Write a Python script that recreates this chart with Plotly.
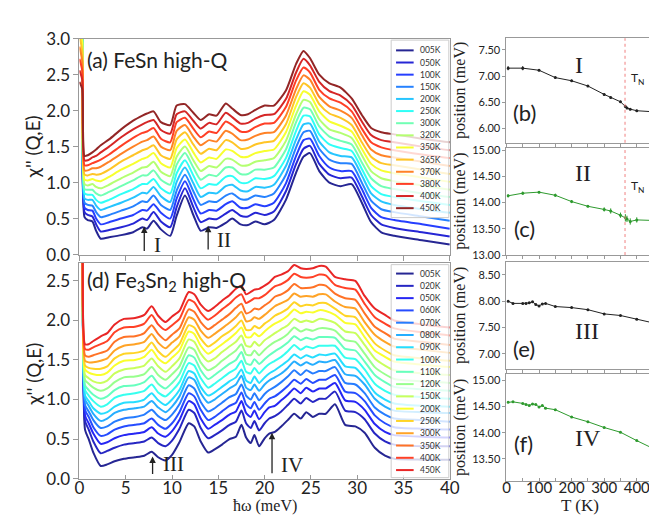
import plotly.graph_objects as go

W, H = 657, 519

# ---------------- data: panel (a) FeSn, chi''(Q,E) per temperature ----------------
fesn_temps = ["005K", "050K", "100K", "150K", "200K", "250K", "300K",
              "320K", "350K", "365K", "370K", "380K", "400K", "450K"]
fesn_energy = [0.0, 0.3, 0.55, 0.9, 1.4, 1.8, 2.3, 3.2, 4.5, 5.8, 6.8, 7.3, 8.0, 8.8,
               9.8, 10.5, 11.4, 12.3, 13.1, 14.0, 14.8, 15.8, 16.5, 17.4, 18.2, 19.0,
               20.0, 21.0, 22.3, 23.4, 24.2, 24.9, 25.9, 27.0, 28.2, 29.4, 30.5, 31.5,
               32.6, 34.0, 37.0, 40.0]
fesn_005K = [4.50, 4.00, 0.52, 0.48, 0.46, 0.33, 0.22, 0.24, 0.27, 0.31, 0.38, 0.36, 0.47, 0.35, 0.26, 0.54, 0.82, 0.55, 0.33, 0.38, 0.37, 0.44, 0.50, 0.42, 0.41, 0.46, 0.42, 0.48, 0.76, 1.14, 1.36, 1.41, 1.16, 1.00, 0.95, 0.98, 0.72, 0.45, 0.31, 0.26, 0.20, 0.14]
fesn_050K = [4.34, 3.87, 0.59, 0.55, 0.53, 0.42, 0.32, 0.34, 0.38, 0.43, 0.50, 0.48, 0.59, 0.46, 0.38, 0.66, 0.92, 0.66, 0.45, 0.50, 0.49, 0.57, 0.62, 0.54, 0.53, 0.58, 0.55, 0.60, 0.88, 1.26, 1.47, 1.51, 1.26, 1.11, 1.06, 1.07, 0.81, 0.55, 0.42, 0.37, 0.31, 0.25]
fesn_100K = [4.18, 3.74, 0.65, 0.62, 0.61, 0.50, 0.42, 0.45, 0.50, 0.55, 0.62, 0.61, 0.70, 0.58, 0.50, 0.78, 1.02, 0.77, 0.57, 0.62, 0.61, 0.70, 0.74, 0.65, 0.65, 0.70, 0.67, 0.72, 0.99, 1.37, 1.59, 1.61, 1.37, 1.21, 1.16, 1.16, 0.91, 0.65, 0.52, 0.48, 0.42, 0.36]
fesn_150K = [4.01, 3.61, 0.72, 0.69, 0.68, 0.59, 0.52, 0.55, 0.61, 0.67, 0.74, 0.73, 0.82, 0.69, 0.62, 0.89, 1.11, 0.88, 0.69, 0.74, 0.73, 0.82, 0.85, 0.77, 0.77, 0.82, 0.80, 0.85, 1.11, 1.49, 1.70, 1.72, 1.47, 1.32, 1.27, 1.26, 1.00, 0.75, 0.63, 0.59, 0.53, 0.47]
fesn_200K = [3.85, 3.48, 0.78, 0.76, 0.76, 0.68, 0.62, 0.66, 0.72, 0.79, 0.86, 0.85, 0.94, 0.81, 0.73, 1.01, 1.21, 0.99, 0.80, 0.86, 0.85, 0.95, 0.97, 0.89, 0.88, 0.94, 0.93, 0.97, 1.23, 1.60, 1.81, 1.82, 1.57, 1.42, 1.37, 1.35, 1.10, 0.85, 0.74, 0.69, 0.63, 0.58]
fesn_250K = [3.69, 3.35, 0.85, 0.83, 0.83, 0.76, 0.72, 0.76, 0.84, 0.91, 0.98, 0.98, 1.05, 0.92, 0.85, 1.13, 1.31, 1.10, 0.92, 0.98, 0.97, 1.08, 1.09, 1.00, 1.00, 1.06, 1.05, 1.09, 1.34, 1.72, 1.93, 1.92, 1.67, 1.53, 1.48, 1.44, 1.19, 0.95, 0.84, 0.80, 0.74, 0.69]
fesn_300K = [3.53, 3.22, 0.91, 0.90, 0.90, 0.85, 0.82, 0.87, 0.95, 1.03, 1.10, 1.10, 1.17, 1.04, 0.97, 1.25, 1.41, 1.21, 1.04, 1.11, 1.09, 1.21, 1.21, 1.12, 1.12, 1.18, 1.18, 1.21, 1.46, 1.84, 2.04, 2.02, 1.78, 1.64, 1.58, 1.53, 1.28, 1.06, 0.95, 0.91, 0.85, 0.80]
fesn_320K = [3.37, 3.08, 0.98, 0.96, 0.98, 0.94, 0.92, 0.97, 1.06, 1.14, 1.21, 1.22, 1.29, 1.15, 1.09, 1.36, 1.50, 1.31, 1.16, 1.23, 1.21, 1.33, 1.32, 1.24, 1.24, 1.29, 1.31, 1.34, 1.58, 1.95, 2.15, 2.12, 1.88, 1.74, 1.69, 1.62, 1.38, 1.16, 1.06, 1.02, 0.96, 0.90]
fesn_350K = [3.21, 2.95, 1.04, 1.03, 1.05, 1.03, 1.02, 1.08, 1.18, 1.26, 1.33, 1.35, 1.41, 1.27, 1.21, 1.48, 1.60, 1.42, 1.28, 1.35, 1.33, 1.46, 1.44, 1.36, 1.36, 1.41, 1.44, 1.46, 1.70, 2.07, 2.27, 2.22, 1.99, 1.85, 1.79, 1.71, 1.47, 1.26, 1.17, 1.13, 1.07, 1.01]
fesn_365K = [3.05, 2.82, 1.11, 1.10, 1.12, 1.11, 1.12, 1.18, 1.29, 1.38, 1.45, 1.47, 1.52, 1.38, 1.33, 1.60, 1.70, 1.53, 1.40, 1.47, 1.45, 1.59, 1.56, 1.47, 1.48, 1.53, 1.56, 1.58, 1.81, 2.19, 2.38, 2.32, 2.09, 1.96, 1.90, 1.80, 1.56, 1.36, 1.27, 1.24, 1.18, 1.12]
fesn_370K = [2.89, 2.69, 1.17, 1.17, 1.20, 1.20, 1.22, 1.29, 1.40, 1.50, 1.57, 1.59, 1.64, 1.50, 1.45, 1.72, 1.80, 1.64, 1.52, 1.59, 1.57, 1.72, 1.68, 1.59, 1.60, 1.65, 1.69, 1.70, 1.93, 2.30, 2.49, 2.43, 2.19, 2.06, 2.00, 1.90, 1.66, 1.46, 1.38, 1.35, 1.29, 1.23]
fesn_380K = [2.72, 2.56, 1.24, 1.24, 1.27, 1.29, 1.32, 1.39, 1.51, 1.62, 1.69, 1.71, 1.76, 1.61, 1.56, 1.84, 1.90, 1.75, 1.63, 1.71, 1.69, 1.85, 1.80, 1.71, 1.71, 1.77, 1.82, 1.83, 2.05, 2.42, 2.60, 2.53, 2.29, 2.17, 2.11, 1.99, 1.75, 1.56, 1.49, 1.45, 1.39, 1.34]
fesn_400K = [2.56, 2.43, 1.31, 1.31, 1.35, 1.37, 1.42, 1.50, 1.63, 1.74, 1.81, 1.84, 1.87, 1.73, 1.68, 1.95, 1.99, 1.86, 1.75, 1.83, 1.81, 1.97, 1.91, 1.82, 1.83, 1.89, 1.94, 1.95, 2.16, 2.53, 2.72, 2.63, 2.40, 2.27, 2.21, 2.08, 1.85, 1.66, 1.59, 1.56, 1.50, 1.45]
fesn_450K = [2.40, 2.30, 1.37, 1.38, 1.42, 1.46, 1.52, 1.60, 1.74, 1.86, 1.93, 1.96, 1.99, 1.84, 1.80, 2.07, 2.09, 1.97, 1.87, 1.95, 1.93, 2.10, 2.03, 1.94, 1.95, 2.01, 2.07, 2.07, 2.28, 2.65, 2.83, 2.73, 2.50, 2.38, 2.32, 2.17, 1.94, 1.76, 1.70, 1.67, 1.61, 1.56]
fesn_curves = [fesn_005K, fesn_050K, fesn_100K, fesn_150K, fesn_200K, fesn_250K, fesn_300K,
               fesn_320K, fesn_350K, fesn_365K, fesn_370K, fesn_380K, fesn_400K, fesn_450K]

# ---------------- data: panel (d) Fe3Sn2, chi''(Q,E) per temperature ----------------
fe3sn2_temps = ["005K", "020K", "050K", "060K", "070K", "080K", "090K", "100K", "110K",
                "120K", "150K", "200K", "250K", "300K", "350K", "400K", "450K"]
fe3sn2_energy = [0.0, 0.3, 0.6, 1.0, 1.5, 2.3, 3.0, 3.8, 4.8, 6.0, 7.0, 7.8, 8.5, 9.3,
                 10.0, 10.8, 11.8, 12.4, 13.1, 13.9, 14.6, 15.4, 16.2, 16.9, 17.5, 18.0,
                 18.5, 18.9, 19.4, 20.0, 20.5, 21.1, 21.8, 22.5, 23.2, 23.9, 24.5, 25.2,
                 25.9, 26.6, 27.6, 28.7, 29.8, 30.8, 31.9, 33.0, 34.0, 37.0, 40.0]
fe3sn2_005K = [4.00, 3.50, 0.62, 0.50, 0.33, 0.16, 0.18, 0.22, 0.25, 0.27, 0.29, 0.34, 0.27, 0.23, 0.30, 0.46, 0.70, 0.66, 0.47, 0.33, 0.37, 0.43, 0.50, 0.53, 0.68, 0.52, 0.45, 0.55, 0.41, 0.51, 0.57, 0.59, 0.66, 0.74, 0.82, 0.76, 0.84, 0.78, 0.82, 0.82, 0.94, 0.68, 0.66, 0.58, 0.39, 0.29, 0.25, 0.24, 0.24]
fe3sn2_020K = [3.92, 3.45, 0.73, 0.62, 0.47, 0.32, 0.35, 0.39, 0.43, 0.45, 0.47, 0.52, 0.45, 0.41, 0.48, 0.63, 0.87, 0.83, 0.64, 0.51, 0.55, 0.61, 0.68, 0.72, 0.86, 0.70, 0.64, 0.73, 0.61, 0.70, 0.76, 0.79, 0.85, 0.93, 1.01, 0.95, 1.02, 0.97, 1.01, 1.01, 1.10, 0.86, 0.84, 0.75, 0.57, 0.47, 0.43, 0.41, 0.41]
fe3sn2_050K = [3.86, 3.42, 0.80, 0.70, 0.57, 0.44, 0.46, 0.51, 0.55, 0.57, 0.59, 0.65, 0.57, 0.53, 0.60, 0.74, 0.98, 0.94, 0.76, 0.63, 0.68, 0.74, 0.81, 0.85, 0.98, 0.83, 0.78, 0.86, 0.75, 0.84, 0.90, 0.92, 0.99, 1.06, 1.14, 1.08, 1.15, 1.10, 1.14, 1.14, 1.21, 0.99, 0.97, 0.87, 0.69, 0.59, 0.55, 0.53, 0.52]
fe3sn2_060K = [3.82, 3.39, 0.87, 0.78, 0.65, 0.54, 0.56, 0.62, 0.66, 0.68, 0.70, 0.76, 0.68, 0.63, 0.70, 0.84, 1.08, 1.04, 0.87, 0.74, 0.78, 0.85, 0.92, 0.96, 1.09, 0.94, 0.89, 0.97, 0.87, 0.95, 1.01, 1.04, 1.10, 1.17, 1.25, 1.20, 1.26, 1.21, 1.25, 1.25, 1.31, 1.10, 1.08, 0.98, 0.80, 0.70, 0.65, 0.63, 0.62]
fe3sn2_070K = [3.77, 3.36, 0.93, 0.85, 0.74, 0.64, 0.66, 0.72, 0.76, 0.78, 0.81, 0.87, 0.79, 0.74, 0.81, 0.94, 1.18, 1.14, 0.97, 0.85, 0.89, 0.96, 1.03, 1.07, 1.19, 1.05, 1.00, 1.08, 0.99, 1.07, 1.12, 1.16, 1.22, 1.29, 1.37, 1.31, 1.37, 1.33, 1.36, 1.36, 1.41, 1.21, 1.19, 1.08, 0.90, 0.81, 0.76, 0.74, 0.72]
fe3sn2_080K = [3.72, 3.33, 1.00, 0.92, 0.82, 0.73, 0.76, 0.83, 0.87, 0.89, 0.91, 0.98, 0.90, 0.84, 0.91, 1.04, 1.28, 1.25, 1.08, 0.96, 1.00, 1.07, 1.14, 1.19, 1.30, 1.15, 1.12, 1.19, 1.11, 1.19, 1.24, 1.28, 1.33, 1.40, 1.48, 1.43, 1.47, 1.44, 1.48, 1.47, 1.50, 1.32, 1.30, 1.19, 1.01, 0.91, 0.86, 0.84, 0.83]
fe3sn2_090K = [3.68, 3.30, 1.05, 0.98, 0.89, 0.82, 0.84, 0.91, 0.96, 0.97, 1.00, 1.08, 0.99, 0.93, 1.00, 1.12, 1.36, 1.33, 1.16, 1.05, 1.09, 1.16, 1.23, 1.28, 1.38, 1.24, 1.21, 1.29, 1.21, 1.28, 1.33, 1.37, 1.43, 1.49, 1.57, 1.52, 1.56, 1.53, 1.57, 1.56, 1.58, 1.42, 1.40, 1.27, 1.09, 1.00, 0.95, 0.92, 0.91]
fe3sn2_100K = [3.63, 3.27, 1.12, 1.05, 0.98, 0.91, 0.94, 1.02, 1.06, 1.08, 1.11, 1.19, 1.09, 1.04, 1.11, 1.22, 1.46, 1.43, 1.27, 1.15, 1.20, 1.27, 1.34, 1.39, 1.49, 1.35, 1.33, 1.40, 1.33, 1.40, 1.45, 1.49, 1.54, 1.61, 1.69, 1.63, 1.67, 1.65, 1.68, 1.68, 1.68, 1.53, 1.51, 1.38, 1.20, 1.11, 1.06, 1.03, 1.01]
fe3sn2_110K = [3.58, 3.24, 1.18, 1.12, 1.06, 1.01, 1.04, 1.12, 1.17, 1.18, 1.22, 1.30, 1.20, 1.14, 1.21, 1.32, 1.56, 1.53, 1.37, 1.26, 1.31, 1.38, 1.45, 1.50, 1.60, 1.46, 1.44, 1.51, 1.45, 1.51, 1.56, 1.61, 1.66, 1.72, 1.80, 1.75, 1.78, 1.76, 1.79, 1.79, 1.78, 1.64, 1.62, 1.48, 1.31, 1.22, 1.16, 1.13, 1.11]
fe3sn2_120K = [3.54, 3.21, 1.25, 1.20, 1.15, 1.11, 1.14, 1.22, 1.28, 1.29, 1.32, 1.41, 1.31, 1.25, 1.32, 1.42, 1.66, 1.63, 1.47, 1.37, 1.41, 1.49, 1.56, 1.62, 1.70, 1.57, 1.56, 1.62, 1.56, 1.63, 1.68, 1.73, 1.77, 1.83, 1.91, 1.86, 1.89, 1.87, 1.90, 1.90, 1.87, 1.75, 1.73, 1.58, 1.41, 1.32, 1.26, 1.23, 1.21]
fe3sn2_150K = [3.49, 3.18, 1.31, 1.27, 1.23, 1.21, 1.24, 1.33, 1.38, 1.40, 1.43, 1.52, 1.42, 1.35, 1.42, 1.52, 1.76, 1.73, 1.58, 1.48, 1.52, 1.60, 1.67, 1.73, 1.81, 1.68, 1.67, 1.73, 1.68, 1.75, 1.79, 1.84, 1.89, 1.94, 2.02, 1.98, 2.00, 1.98, 2.02, 2.01, 1.97, 1.86, 1.84, 1.69, 1.52, 1.43, 1.37, 1.33, 1.31]
fe3sn2_200K = [3.44, 3.15, 1.38, 1.34, 1.32, 1.31, 1.34, 1.43, 1.49, 1.50, 1.54, 1.63, 1.52, 1.46, 1.53, 1.62, 1.86, 1.83, 1.68, 1.58, 1.63, 1.70, 1.77, 1.84, 1.91, 1.79, 1.79, 1.84, 1.80, 1.86, 1.91, 1.96, 2.00, 2.06, 2.14, 2.09, 2.11, 2.10, 2.13, 2.12, 2.07, 1.97, 1.95, 1.79, 1.62, 1.54, 1.48, 1.44, 1.41]
fe3sn2_250K = [3.40, 3.12, 1.43, 1.40, 1.39, 1.39, 1.42, 1.52, 1.58, 1.59, 1.62, 1.72, 1.61, 1.54, 1.61, 1.70, 1.94, 1.91, 1.77, 1.67, 1.72, 1.80, 1.86, 1.93, 2.00, 1.88, 1.88, 1.93, 1.90, 1.96, 2.00, 2.06, 2.10, 2.15, 2.23, 2.18, 2.20, 2.19, 2.22, 2.22, 2.15, 2.06, 2.04, 1.88, 1.71, 1.62, 1.56, 1.52, 1.49]
fe3sn2_300K = [3.35, 3.10, 1.49, 1.47, 1.47, 1.49, 1.52, 1.62, 1.68, 1.70, 1.73, 1.83, 1.72, 1.65, 1.72, 1.80, 2.04, 2.01, 1.87, 1.78, 1.83, 1.90, 1.97, 2.04, 2.11, 1.99, 2.00, 2.04, 2.02, 2.07, 2.12, 2.18, 2.22, 2.26, 2.34, 2.30, 2.31, 2.30, 2.33, 2.33, 2.24, 2.17, 2.15, 1.98, 1.82, 1.73, 1.67, 1.63, 1.59]
fe3sn2_350K = [3.30, 3.06, 1.56, 1.54, 1.56, 1.59, 1.62, 1.73, 1.79, 1.80, 1.84, 1.94, 1.83, 1.75, 1.82, 1.90, 2.14, 2.11, 1.98, 1.89, 1.94, 2.01, 2.08, 2.16, 2.21, 2.09, 2.11, 2.15, 2.14, 2.19, 2.23, 2.30, 2.33, 2.38, 2.46, 2.41, 2.41, 2.42, 2.45, 2.44, 2.34, 2.28, 2.26, 2.09, 1.92, 1.84, 1.77, 1.73, 1.69]
fe3sn2_400K = [3.25, 3.03, 1.64, 1.63, 1.66, 1.70, 1.74, 1.85, 1.91, 1.92, 1.96, 2.07, 1.95, 1.88, 1.94, 2.02, 2.26, 2.23, 2.10, 2.01, 2.06, 2.14, 2.21, 2.29, 2.33, 2.22, 2.25, 2.28, 2.28, 2.32, 2.37, 2.43, 2.46, 2.51, 2.59, 2.55, 2.54, 2.55, 2.58, 2.57, 2.45, 2.41, 2.39, 2.21, 2.04, 1.96, 1.90, 1.85, 1.81]
fe3sn2_450K = [3.20, 3.00, 1.70, 1.70, 1.74, 1.80, 1.84, 1.95, 2.02, 2.03, 2.07, 2.18, 2.06, 1.98, 2.05, 2.12, 2.36, 2.33, 2.20, 2.12, 2.17, 2.25, 2.32, 2.40, 2.44, 2.33, 2.36, 2.39, 2.40, 2.44, 2.48, 2.55, 2.58, 2.62, 2.70, 2.66, 2.65, 2.66, 2.69, 2.68, 2.55, 2.52, 2.50, 2.31, 2.15, 2.07, 2.00, 1.95, 1.91]
fe3sn2_curves = [fe3sn2_005K, fe3sn2_020K, fe3sn2_050K, fe3sn2_060K, fe3sn2_070K, fe3sn2_080K,
                 fe3sn2_090K, fe3sn2_100K, fe3sn2_110K, fe3sn2_120K, fe3sn2_150K, fe3sn2_200K,
                 fe3sn2_250K, fe3sn2_300K, fe3sn2_350K, fe3sn2_400K, fe3sn2_450K]

# ---------------- data: right panels (peak positions vs T) ----------------
temp_bc = [5, 50, 100, 150, 200, 250, 300, 320, 350, 365, 370, 380, 400, 450]
peak1_pos = [7.15, 7.15, 7.11, 6.97, 6.91, 6.81, 6.65, 6.59, 6.51, 6.42, 6.39, 6.37, 6.34, 6.32]
peak1_err = [0.04, 0.04, 0.02, 0.02, 0.02, 0.02, 0.02, 0.02, 0.02, 0.02, 0.02, 0.02, 0.02, 0.02]
peak2_pos = [14.13, 14.18, 14.20, 14.14, 14.02, 13.93, 13.87, 13.84, 13.76, 13.71, 13.69,
             13.64, 13.67, 13.66]
peak2_err = [0.03, 0.03, 0.02, 0.03, 0.03, 0.02, 0.04, 0.05, 0.05, 0.07, 0.06, 0.06, 0.05, 0.03]
temp_ef = [5, 20, 50, 60, 70, 80, 90, 100, 110, 120, 150, 200, 250, 300, 350, 400, 450]
peak3_pos = [8.00, 7.96, 7.96, 7.96, 7.97, 7.99, 7.94, 7.91, 7.95, 7.96, 7.90, 7.88, 7.84,
             7.76, 7.73, 7.66, 7.59]
peak3_err = [0.01] * 17
peak4_pos = [14.58, 14.59, 14.56, 14.54, 14.52, 14.55, 14.54, 14.49, 14.52, 14.47, 14.44,
             14.30, 14.21, 14.10, 14.01, 13.85, 13.70]
peak4_err = [0.01] * 17
T_N = 364


def px(x):
    return x / W


def py(y):
    return 1 - y / H


def jet(t, alpha=0.85):
    r = min(1, max(0, 1.5 - abs(4 * t - 3)))
    g = min(1, max(0, 1.5 - abs(4 * t - 2)))
    b = min(1, max(0, 1.5 - abs(4 * t - 1)))
    c = [int(round(255 - alpha * (255 - 255 * v))) for v in (r, g, b)]
    return "rgb(%d,%d,%d)" % tuple(c)


SANS = "Lato"
SERIF = "Liberation Serif"
black = "#222222"
green = "#2e9a2e"

fig = go.Figure()

colors_a = [jet(i / (len(fesn_temps) - 1)) for i in range(len(fesn_temps))]
colors_d = [jet(0.9 * i / (len(fe3sn2_temps) - 1)) for i in range(len(fe3sn2_temps))]

for i, T in enumerate(fesn_temps):
    fig.add_trace(go.Scatter(x=fesn_energy, y=fesn_curves[i], mode="lines", name=T,
                             line=dict(color=colors_a[i], width=2, shape="spline", smoothing=0.6),
                             xaxis="x", yaxis="y", showlegend=False, hoverinfo="skip"))
for i, T in enumerate(fe3sn2_temps):
    fig.add_trace(go.Scatter(x=fe3sn2_energy, y=fe3sn2_curves[i], mode="lines", name=T,
                             line=dict(color=colors_d[i], width=2, shape="spline", smoothing=0.6),
                             xaxis="x4", yaxis="y4", showlegend=False, hoverinfo="skip"))

for xs, ys, es, col, ax in [(temp_bc, peak1_pos, peak1_err, black, "2"),
                            (temp_bc, peak2_pos, peak2_err, green, "3"),
                            (temp_ef, peak3_pos, peak3_err, black, "5"),
                            (temp_ef, peak4_pos, peak4_err, green, "6")]:
    fig.add_trace(go.Scatter(x=xs, y=ys, mode="lines+markers",
                             line=dict(color=col, width=1),
                             marker=dict(color=col, size=3),
                             error_y=dict(type="data", array=es, thickness=1, width=0, color=col),
                             xaxis="x" + ax, yaxis="y" + ax, showlegend=False, hoverinfo="skip"))

frame = dict(showline=True, linecolor="#999999", linewidth=1, mirror=True, showgrid=False,
             zeroline=False, tickcolor="#999999")

LX = [px(68), px(447)]
RX = [px(505), px(655)]
layout = dict(
    width=W, height=H, margin=dict(l=0, r=0, t=0, b=0),
    paper_bgcolor="white", plot_bgcolor="white",
    xaxis=dict(domain=LX, range=[0, 40], dtick=5, ticks="outside", ticklen=5,
               showticklabels=False, anchor="y", **frame),
    yaxis=dict(domain=[py(245.5), py(20.5)], range=[0, 3], dtick=0.5, tickformat=".1f",
               ticks="outside", ticklen=5, tickfont=dict(family=SANS, size=17, color=black),
               anchor="x", **frame),
    xaxis4=dict(domain=LX, range=[0, 40], dtick=5, ticks="inside", ticklen=4,
                ticklabelstandoff=-6,
                tickfont=dict(family=SANS, size=17, color=black), anchor="y4", **frame),
    yaxis4=dict(domain=[py(479), py(254)], range=[0, 2.73], dtick=0.5, tickformat=".1f",
                ticks="outside", ticklen=5, tickfont=dict(family=SANS, size=17, color=black),
                anchor="x4", **frame),
)
right = {"2": ([py(129), py(20)], [5.73, 7.72], [6.0, 6.5, 7.0, 7.5]),
         "3": ([py(246), py(134)], [13.0, 15.05], [13.0, 13.5, 14.0, 14.5, 15.0]),
         "5": ([py(365), py(253)], [6.71, 8.75], [7.0, 7.5, 8.0, 8.5]),
         "6": ([py(482), py(369.5)], [13.07, 15.13], [13.5, 14.0, 14.5, 15.0])}
tvals = list(range(0, 451, 50))
for k, (dom, rng, yt) in right.items():
    last = k == "6"
    xa = dict(domain=RX, range=[0, 450], tickvals=tvals,
              ticktext=[str(v) if v % 100 == 0 and v < 450 else "" for v in tvals],
              showticklabels=last, ticks="inside" if last else "outside",
              ticklen=3, tickfont=dict(family=SANS, size=15, color=black),
              anchor="y" + k, **frame)
    if last:
        xa["ticklabelstandoff"] = -7
    layout["xaxis" + k] = xa
    layout["yaxis" + k] = dict(domain=dom, range=rng, tickvals=yt, tickformat=".2f",
                               ticks="outside", ticklen=3,
                               tickfont=dict(family=SANS, size=11, color=black),
                               anchor="x" + k, **frame)
fig.update_layout(**layout)

ann = []
shapes = []


def text(x, y, s, size, family=SANS, angle=0, xanchor="center", color=black):
    ann.append(dict(x=px(x), y=py(y), xref="paper", yref="paper", text=s, showarrow=False,
                    font=dict(family=family, size=size, color=color), textangle=angle,
                    xanchor=xanchor, yanchor="middle"))


text(74, 42, "(a) FeSn high-Q", 21, xanchor="left")
text(74, 273, "(d) Fe<sub>3</sub>Sn<sub>2</sub> high-Q", 21, xanchor="left")
text(20, 133, "χ'' (Q,E)", 19, angle=-90)
text(20, 370, "χ'' (Q,E)", 19, angle=-90)
text(258, 508, "ħω (meV)", 16, family=SERIF)
text(580, 507, "T (K)", 17, family=SERIF)
for yc in [74.5, 190, 309, 425.7]:
    text(458, yc, "position (meV)", 16, family=SERIF, angle=-90)
text(523, 97, "(b)", 22)
text(523, 218, "(c)", 22)
text(523, 343, "(e)", 22)
text(522, 442, "(f)", 22)
text(579, 48, "I", 24, family=SERIF)
text(583, 160, "II", 24, family=SERIF)
text(587, 325, "III", 24, family=SERIF)
text(588, 437, "IV", 24, family=SERIF)
text(640, 62, "T<sub>N</sub>", 12)
text(640, 175, "T<sub>N</sub>", 12)

# arrows marking the modes followed on the right
arrows = [("x", "y", 7.0, 0.03, 0.39, "I", 8.4, 0.13),
          ("x", "y", 13.9, 0.05, 0.40, "II", 15.6, 0.20),
          ("x4", "y4", 7.9, 0.04, 0.28, "III", 10.2, 0.18),
          ("x4", "y4", 20.8, 0.05, 0.58, "IV", 23.0, 0.17)]
for xr, yr, e, y0, y1, lab, lx, ly in arrows:
    ann.append(dict(x=e, y=y1, ax=e, ay=y0, xref=xr, yref=yr, axref=xr, ayref=yr,
                    showarrow=True, arrowhead=2, arrowsize=1, arrowwidth=1.3,
                    arrowcolor=black, text=""))
    ann.append(dict(x=lx, y=ly, xref=xr, yref=yr, text=lab, showarrow=False,
                    font=dict(family=SERIF, size=21, color=black)))

for xr in ["x2", "x3"]:
    shapes.append(dict(type="line", xref=xr, yref=xr.replace("x", "y") + " domain",
                       x0=T_N, x1=T_N, y0=0, y1=1,
                       line=dict(color="#f08080", width=1, dash="dot")))


def legend(top, bottom, first, step, temps, colors):
    shapes.append(dict(type="rect", xref="paper", yref="paper", x0=px(387), x1=px(446),
                       y0=py(bottom), y1=py(top), fillcolor="rgba(255,255,255,0.8)",
                       line=dict(color="#cccccc", width=1), layer="above"))
    for i, (t, c) in enumerate(zip(temps, colors)):
        yy = first + i * step
        shapes.append(dict(type="line", xref="paper", yref="paper", x0=px(392), x1=px(410),
                           y0=py(yy), y1=py(yy), line=dict(color=c, width=2), layer="above"))
        text(414, yy, t, 8.5, xanchor="left", color="#333333")


legend(22, 207, 32.7, 12.65, fesn_temps, colors_a)
legend(256, 478, 265.3, 12.8, fe3sn2_temps, colors_d)

fig.update_layout(annotations=ann, shapes=shapes)
fig.write_html("out.html")
